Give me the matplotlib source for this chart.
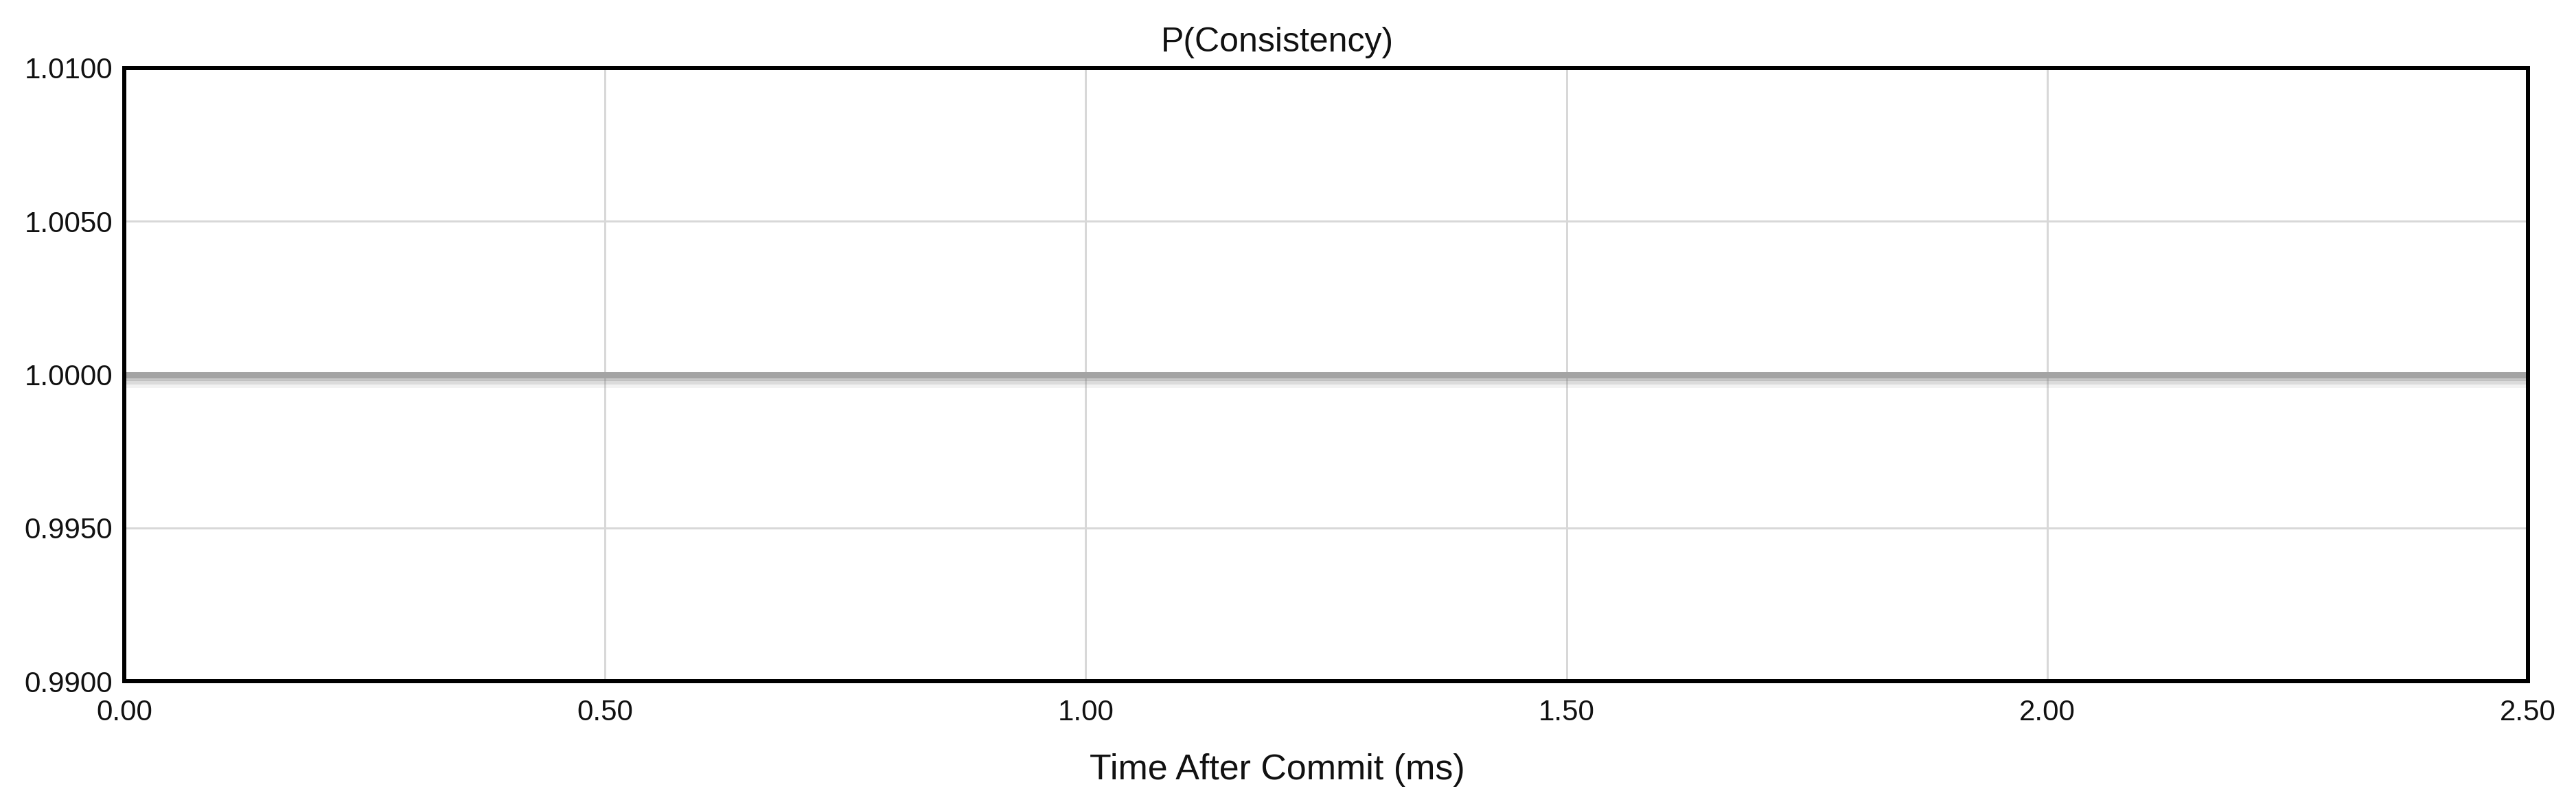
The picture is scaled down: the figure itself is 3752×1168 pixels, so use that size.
import matplotlib
matplotlib.use("Agg")
import matplotlib.pyplot as plt
import matplotlib.patheffects as pe
from matplotlib.ticker import FormatStrFormatter

# ---- data ----
time_ms = [0.0, 0.5, 1.0, 1.5, 2.0, 2.5]
p_consistency = [1.0, 1.0, 1.0, 1.0, 1.0, 1.0]
x_ticks = [0.0, 0.5, 1.0, 1.5, 2.0, 2.5]
y_ticks = [0.990, 0.995, 1.000, 1.005, 1.010]
title_text = "P(Consistency)"
xlabel_text = "Time After Commit (ms)"

W, H, DPI = 3752, 1168, 100
def pt(px):
    return px * 72.0 / DPI

plt.rcParams['font.family'] = ['Liberation Sans', 'DejaVu Sans']

fig = plt.figure(figsize=(W / DPI, H / DPI), dpi=DPI)
left, right, top, bottom = 181, 3682, 99, 992
ax = fig.add_axes([left / W, (H - bottom) / H, (right - left) / W, (bottom - top) / H])

ax.set_xlim(0, 2.5)
ax.set_ylim(0.99, 1.01)
ax.set_xticks(x_ticks)
ax.set_yticks(y_ticks)
ax.xaxis.set_major_formatter(FormatStrFormatter('%.2f'))
ax.yaxis.set_major_formatter(FormatStrFormatter('%.4f'))
ax.tick_params(axis='both', length=0, labelsize=pt(42), colors='#111111')
ax.tick_params(axis='x', pad=pt(26))
ax.tick_params(axis='y', pad=pt(17))

ax.grid(True, color='#d8d8d8', linewidth=pt(3))
ax.set_axisbelow(True)
for s in ax.spines.values():
    s.set_linewidth(pt(6))
    s.set_color('black')
    s.set_zorder(5)

effects = [
    pe.SimpleLineShadow(offset=(0, -pt(13)), shadow_color='#808080', alpha=0.10, linewidth=pt(12)),
    pe.SimpleLineShadow(offset=(0, -pt(8)), shadow_color='#808080', alpha=0.20, linewidth=pt(12)),
    pe.SimpleLineShadow(offset=(0, -pt(3)), shadow_color='#808080', alpha=0.28, linewidth=pt(12)),
    pe.Normal(),
]
ax.plot(time_ms, p_consistency, color='#a4a4a4', linewidth=pt(9),
        solid_capstyle='butt', zorder=3, path_effects=effects)

fig.text(1860 / W, 1 - 75 / H, title_text, ha='center', va='baseline',
         fontsize=pt(50), color='#111111')
fig.text(1860 / W, 1 - 1135 / H, xlabel_text, ha='center', va='baseline',
         fontsize=pt(52), color='#111111')

fig.savefig("out.png", dpi=DPI)
